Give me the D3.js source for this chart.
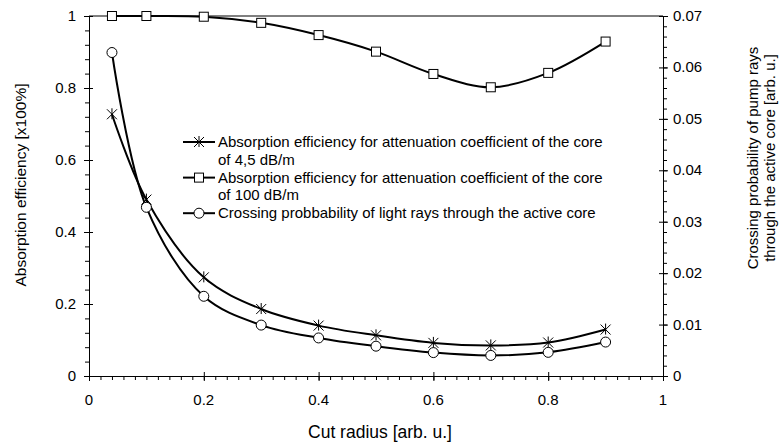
<!DOCTYPE html>
<html>
<head>
<meta charset="utf-8">
<script src="https://cdn.jsdelivr.net/npm/d3@7"></script>
<style>
  html, body { margin: 0; padding: 0; background: #fff; overflow: hidden; }
  svg { display: block; font-family: "Liberation Sans", Arial, sans-serif; }
  .axis path, .axis line { stroke: #000; stroke-width: 1; }
  .tickLabel { font-size: 15px; fill: #000; }
</style>
</head>
<body>
<svg id="chart" width="782" height="444"></svg>
<script>
// Data.
const cutRadius = [0.04, 0.1, 0.2, 0.3, 0.4, 0.5, 0.6, 0.7, 0.8, 0.9];
const absorption45 = [0.727, 0.49, 0.274, 0.186, 0.14, 0.113, 0.092, 0.085, 0.093, 0.129];
const absorption100 = [1.0, 1.0, 0.998, 0.981, 0.947, 0.901, 0.839, 0.802, 0.842, 0.929];
const crossingProb = [0.0629, 0.0328, 0.0155, 0.0099, 0.0074, 0.0058, 0.00455, 0.0040, 0.0046, 0.0066]; // right axis

const xTicks = [0, 0.2, 0.4, 0.6, 0.8, 1];
const xTickLabels = ["0", "0.2", "0.4", "0.6", "0.8", "1"];
const leftTicks = [0, 0.2, 0.4, 0.6, 0.8, 1];
const leftTickLabels = ["0", "0.2", "0.4", "0.6", "0.8", "1"];
const rightTicks = [0, 0.01, 0.02, 0.03, 0.04, 0.05, 0.06, 0.07];
const rightTickLabels = ["0", "0.01", "0.02", "0.03", "0.04", "0.05", "0.06", "0.07"];

const legendLabels = [
  ["Absorption efficiency for attenuation coefficient of the core", "of 4,5 dB/m"],
  ["Absorption efficiency for attenuation coefficient of the core", "of 100 dB/m"],
  ["Crossing probbability of light rays through the active core"]
];

// Layout.
const width = 782, height = 444;
const margin = {top: 16, right: 119, bottom: 68, left: 89};
const innerWidth = width - margin.left - margin.right;
const innerHeight = height - margin.top - margin.bottom;

const svg = d3.select("#chart");
const g = svg.append("g").attr("transform", `translate(${margin.left},${margin.top})`);

const xScale = d3.scaleLinear().domain([0, 1]).range([0, innerWidth]);
const yLeft = d3.scaleLinear().domain([0, 1]).range([innerHeight, 0]);
const yRight = d3.scaleLinear().domain([0, 0.07]).range([innerHeight, 0]);

// Frame top line.
g.append("line")
  .attr("x1", 0).attr("x2", innerWidth).attr("y1", 0).attr("y2", 0)
  .attr("stroke", "#000");

// Axes draw lines and ticks only; labels are placed below in page coordinates.
const noText = (sel) => sel.selectAll("text").remove();

// Minor ticks (outward).
const xMinor = d3.range(0, 1.0001, 0.02);
const leftMinor = d3.range(0, 1.0001, 0.04);
const rightMinor = d3.range(0, 0.07001, 0.002);

g.append("g").attr("class", "axis")
  .attr("transform", `translate(0,${innerHeight})`)
  .call(d3.axisBottom(xScale).tickValues(xMinor).tickSizeInner(4).tickSizeOuter(0))
  .call(noText);
g.append("g").attr("class", "axis")
  .call(d3.axisLeft(yLeft).tickValues(leftMinor).tickSizeInner(4).tickSizeOuter(0))
  .call(noText);
g.append("g").attr("class", "axis")
  .attr("transform", `translate(${innerWidth},0)`)
  .call(d3.axisRight(yRight).tickValues(rightMinor).tickSizeInner(4).tickSizeOuter(0))
  .call(noText);

// Major ticks, crossing the axis line.
g.append("g").attr("class", "axis")
  .attr("transform", `translate(0,${innerHeight})`)
  .call(d3.axisBottom(xScale).tickValues(xTicks).tickSizeInner(5).tickSizeOuter(0))
  .call(noText)
  .selectAll(".tick line").attr("y1", -4);
g.append("g").attr("class", "axis")
  .call(d3.axisLeft(yLeft).tickValues(leftTicks).tickSizeInner(5).tickSizeOuter(0))
  .call(noText)
  .selectAll(".tick line").attr("x1", 4);
g.append("g").attr("class", "axis")
  .attr("transform", `translate(${innerWidth},0)`)
  .call(d3.axisRight(yRight).tickValues(rightTicks).tickSizeInner(5).tickSizeOuter(0))
  .call(noText)
  .selectAll(".tick line").attr("x1", -4);

// Tick labels.
const gLabels = svg.append("g");
xTicks.forEach((d, i) => {
  gLabels.append("text").attr("class", "tickLabel")
    .attr("x", margin.left + xScale(d))
    .attr("y", margin.top + innerHeight + 29)
    .attr("text-anchor", "middle")
    .text(xTickLabels[i]);
});
leftTicks.forEach((d, i) => {
  gLabels.append("text").attr("class", "tickLabel")
    .attr("x", margin.left - 13)
    .attr("y", margin.top + yLeft(d) + 5)
    .attr("text-anchor", "end")
    .text(leftTickLabels[i]);
});
rightTicks.forEach((d, i) => {
  gLabels.append("text").attr("class", "tickLabel")
    .attr("x", margin.left + innerWidth + 10)
    .attr("y", margin.top + yRight(d) + 5)
    .attr("text-anchor", "start")
    .text(rightTickLabels[i]);
});

// Axis titles.
svg.append("text")
  .attr("x", margin.left + innerWidth / 2 + 4)
  .attr("y", 438)
  .attr("text-anchor", "middle")
  .attr("font-size", 17.5)
  .text("Cut radius [arb. u.]");

svg.append("text")
  .attr("x", 26).attr("y", 185)
  .attr("transform", "rotate(-90, 26, 185)")
  .attr("text-anchor", "middle")
  .attr("font-size", 15.5)
  .text("Absorption efficiency [x100%]");

svg.append("text")
  .attr("x", 758).attr("y", 158)
  .attr("transform", "rotate(-90, 758, 158)")
  .attr("text-anchor", "middle")
  .attr("font-size", 15)
  .text("Crossing probability of pump rays");
svg.append("text")
  .attr("x", 775).attr("y", 158)
  .attr("transform", "rotate(-90, 775, 158)")
  .attr("text-anchor", "middle")
  .attr("font-size", 15)
  .text("through the active core [arb. u.]");

// Series lines.
const curve = d3.curveCatmullRom.alpha(0.5);
const pts = (ys, yScale) => cutRadius.map((x, i) => [xScale(x), yScale(ys[i])]);
const lineGen = d3.line().curve(curve);

const series = [
  {values: absorption45, scale: yLeft, marker: "star"},
  {values: absorption100, scale: yLeft, marker: "square"},
  {values: crossingProb, scale: yRight, marker: "circle"}
];

const gLines = g.append("g");
series.forEach((s) => {
  gLines.append("path")
    .attr("d", lineGen(pts(s.values, s.scale)))
    .attr("fill", "none")
    .attr("stroke", "#000")
    .attr("stroke-width", 2);
});

// Markers.
function drawMarker(sel, type, x, y) {
  if (type === "square") {
    sel.append("rect")
      .attr("x", x - 4.5).attr("y", y - 4.5)
      .attr("width", 9).attr("height", 9)
      .attr("fill", "#fff").attr("stroke", "#000").attr("stroke-width", 1);
  } else if (type === "circle") {
    sel.append("circle")
      .attr("cx", x).attr("cy", y).attr("r", 5)
      .attr("fill", "#fff").attr("stroke", "#000").attr("stroke-width", 1);
  } else {
    const r = 5;
    sel.append("path")
      .attr("d", `M${x - r},${y - r}L${x + r},${y + r}M${x - r},${y + r}L${x + r},${y - r}M${x},${y - r - 1}L${x},${y + r}`)
      .attr("fill", "none").attr("stroke", "#000").attr("stroke-width", 1);
  }
}

const gMarkers = g.append("g");
series.forEach((s) => {
  pts(s.values, s.scale).forEach(([x, y]) => drawMarker(gMarkers, s.marker, x, y));
});

// Legend.
const gLegend = svg.append("g");
const legendX = 183, legendTextX = 218;
let rowY = 147;
legendLabels.forEach((lines, i) => {
  const cy = rowY - 5;
  gLegend.append("line")
    .attr("x1", legendX).attr("x2", legendX + 32)
    .attr("y1", cy).attr("y2", cy)
    .attr("stroke", "#000").attr("stroke-width", 2);
  drawMarker(gLegend, series[i].marker, legendX + 16, cy);
  lines.forEach((t) => {
    gLegend.append("text")
      .attr("x", legendTextX).attr("y", rowY)
      .attr("font-size", 15)
      .text(t);
    rowY += 17.8;
  });
});
</script>
</body>
</html>
